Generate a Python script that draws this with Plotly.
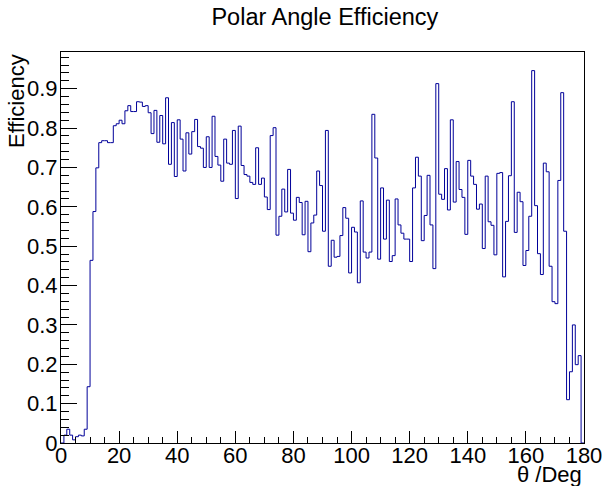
import plotly.graph_objects as go

bin_edges_start = 0.0
bin_width = 1.0
efficiency = [
    0.0, 0.02, 0.035, 0.02, 0.008, 0.016, 0.02, 0.018, 0.035, 0.143,
    0.464, 0.588, 0.699, 0.763, 0.768, 0.768, 0.763, 0.763, 0.806, 0.811,
    0.820, 0.811, 0.844, 0.857, 0.842, 0.842, 0.867, 0.866, 0.855, 0.857,
    0.839, 0.786, 0.845, 0.764, 0.832, 0.760, 0.877, 0.708, 0.814, 0.677,
    0.821, 0.772, 0.691, 0.788, 0.734, 0.791, 0.822, 0.753, 0.749, 0.700,
    0.778, 0.700, 0.830, 0.728, 0.706, 0.665, 0.772, 0.711, 0.708, 0.794,
    0.621, 0.805, 0.705, 0.682, 0.678, 0.662, 0.657, 0.750, 0.657, 0.673,
    0.625, 0.593, 0.781, 0.801, 0.528, 0.576, 0.645, 0.587, 0.695, 0.584,
    0.566, 0.624, 0.611, 0.529, 0.614, 0.486, 0.559, 0.579, 0.691, 0.654,
    0.538, 0.794, 0.449, 0.515, 0.472, 0.474, 0.527, 0.598, 0.571, 0.432,
    0.548, 0.536, 0.407, 0.615, 0.485, 0.470, 0.485, 0.835, 0.724, 0.467,
    0.648, 0.518, 0.617, 0.461, 0.476, 0.620, 0.554, 0.533, 0.518, 0.518,
    0.461, 0.648, 0.726, 0.678, 0.514, 0.578, 0.680, 0.554, 0.443, 0.913,
    0.632, 0.619, 0.697, 0.592, 0.821, 0.612, 0.715, 0.644, 0.624, 0.530,
    0.718, 0.678, 0.657, 0.594, 0.607, 0.494, 0.678, 0.562, 0.553, 0.478,
    0.685, 0.687, 0.422, 0.563, 0.679, 0.867, 0.535, 0.637, 0.613, 0.451,
    0.489, 0.576, 0.946, 0.603, 0.481, 0.428, 0.711, 0.689, 0.449, 0.359,
    0.354, 0.667, 0.890, 0.538, 0.110, 0.181, 0.300, 0.199, 0.222, 0.0,
]
x_tick_vals = [0, 20, 40, 60, 80, 100, 120, 140, 160, 180]
x_tick_text = ["0", "20", "40", "60", "80", "100", "120", "140", "160", "180"]
y_tick_vals = [0, 0.1, 0.2, 0.3, 0.4, 0.5, 0.6, 0.7, 0.8, 0.9]
y_tick_text = ["0", "0.1", "0.2", "0.3", "0.4", "0.5", "0.6", "0.7", "0.8", "0.9"]
title_text = "Polar Angle Efficiency"
x_title = "θ /Deg"
y_title = "Efficiency"

n = len(efficiency)
edges = [bin_edges_start + i * bin_width for i in range(n + 1)]
xs = [edges[0]] + edges[:n] + [edges[n], edges[n]]
ys = [0.0] + efficiency + [efficiency[-1], 0.0]

ymax = max(efficiency) * 1.05

fig = go.Figure()
fig.add_trace(go.Scatter(
    x=xs, y=ys, mode="lines",
    line=dict(color="#000099", width=1, shape="hv"),
    showlegend=False, hoverinfo="skip",
))

font_family = "Liberation Sans, Arial, Helvetica, sans-serif"
fig.update_layout(
    width=605, height=486,
    margin=dict(l=61, r=21, t=52, b=43, autoexpand=False),
    paper_bgcolor="white", plot_bgcolor="white",
    font=dict(family=font_family, color="black", size=22),
    title=dict(text=title_text, x=0.537, xanchor="center",
               y=1 - 17 / 486, yanchor="middle", yref="container",
               font=dict(size=23.5, family=font_family, color="black")),
    showlegend=False,
)
fig.update_xaxes(
    range=[edges[0], edges[-1]], automargin=False,
    tickvals=x_tick_vals, ticktext=x_tick_text,
    ticks="inside", ticklen=12, tickwidth=1, tickcolor="black",
    ticklabelstandoff=-7,
    minor=dict(ticks="inside", ticklen=6, dtick=5, tickcolor="black", tickwidth=1),
    showline=True, linecolor="black", linewidth=1, mirror=True,
    showgrid=False, zeroline=False,
    tickfont=dict(size=22, family=font_family, color="black"),
)
fig.update_yaxes(
    range=[0, ymax], automargin=False,
    tickvals=y_tick_vals, ticktext=y_tick_text,
    ticks="inside", ticklen=16, tickwidth=1, tickcolor="black",
    ticklabelstandoff=-2,
    minor=dict(ticks="inside", ticklen=8, dtick=0.02, tickcolor="black", tickwidth=1),
    showline=True, linecolor="black", linewidth=1, mirror=True,
    showgrid=False, zeroline=False,
    tickfont=dict(size=22, family=font_family, color="black"),
)
fig.add_annotation(
    text=x_title, xref="paper", yref="paper",
    x=1.0, y=-0.081, xanchor="right", yanchor="middle",
    showarrow=False, font=dict(size=22, family=font_family, color="black"),
)
fig.add_annotation(
    text=y_title, xref="paper", yref="paper",
    x=-0.086, y=1.0, xanchor="center", yanchor="top", textangle=-90,
    showarrow=False, font=dict(size=22, family=font_family, color="black"),
)
fig.write_html(
    "out.html",
    config={"displayModeBar": False},
    post_script="document.body.style.margin='0px';document.body.style.overflow='hidden';",
)
